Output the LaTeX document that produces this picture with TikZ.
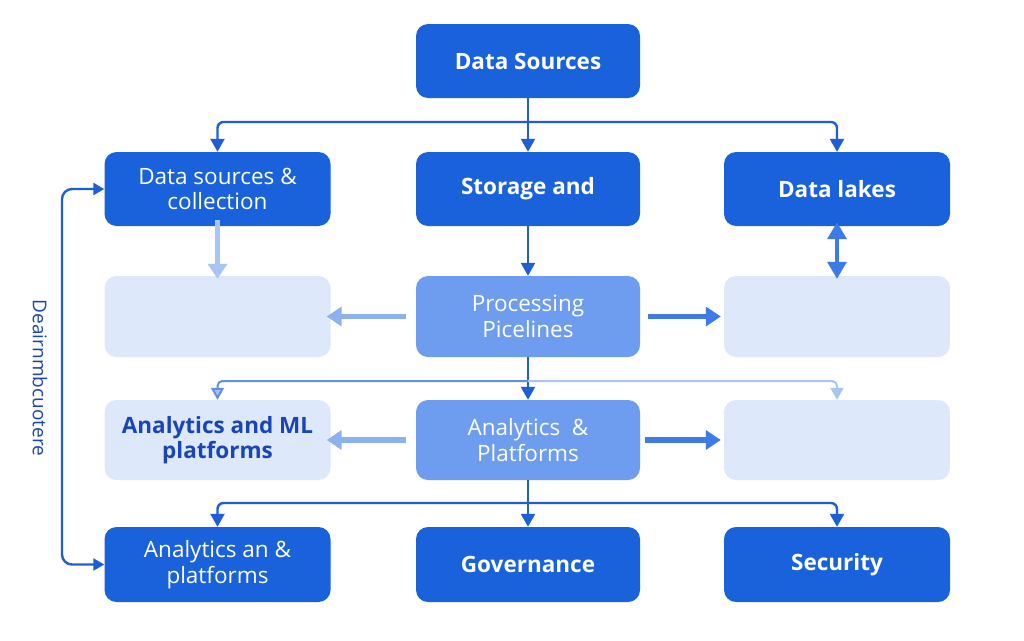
\documentclass[tikz,border=0pt]{standalone}
\usepackage{fontspec}
\setmainfont{Open Sans}
\usetikzlibrary{arrows.meta}
\definecolor{dk}{HTML}{1A62DC}
\definecolor{md}{HTML}{6E9DF0}
\definecolor{lt}{HTML}{DDE9FB}
\definecolor{ln}{HTML}{1F5FD6}
\definecolor{fd}{HTML}{A8C5F3}
\definecolor{fm}{HTML}{8DB1EF}
\definecolor{ar}{HTML}{3F7BE6}
\definecolor{tx}{HTML}{1A45B5}
\begin{document}
\begin{tikzpicture}[x=1pt,y=-1pt,
  box/.style={rounded corners=12pt, align=center, inner sep=0pt, minimum width=226pt, font=\fontsize{22.5}{25.5}\selectfont},
  bold/.style={font=\fontsize{22.5}{25.5}\selectfont\bfseries},
  dkbox/.style={box, fill=dk, text=white},
  mdbox/.style={box, fill=md, text=white},
  ltbox/.style={box, fill=lt, text=tx},
  conn/.style={draw=ln, line width=2.4pt, -{Triangle[length=13pt,width=14pt]}},
  fat/.style={line width=5.5pt, -{Triangle[length=15pt,width=19pt]}},
]
\useasboundingbox[fill=white] (0,0) rectangle (1024,640);

% nodes
\node[dkbox, bold, minimum width=224pt, minimum height=74pt] (src) at (528,61) {Data Sources};

\node[dkbox, minimum height=74pt] (r1l) at (217.5,189) {Data sources \&\\collection};
\node[dkbox, bold, minimum width=224pt, minimum height=74pt] (r1c) at (528,189) {Storage and};
\node[dkbox, bold, minimum height=74pt] (r1r) at (837,189) {Data lakes};

\node[ltbox, minimum height=81pt] (r2l) at (217.5,316.5) {};
\node[mdbox, minimum width=224pt, minimum height=81pt] (r2c) at (528,316.5) {Processing\\Picelines};
\node[ltbox, minimum height=81pt] (r2r) at (837,316.5) {};

\node[ltbox, bold, minimum height=80pt] (r3l) at (217.5,440) {Analytics and ML\\platforms};
\node[mdbox, minimum width=224pt, minimum height=80pt] (r3c) at (528,440) {Analytics~~\&\\Platforms};
\node[ltbox, minimum height=80pt] (r3r) at (837,440) {};

\node[dkbox, minimum height=75pt] (r4l) at (217.5,564.5) {Analytics an \&\\platforms};
\node[dkbox, bold, minimum width=224pt, minimum height=75pt] (r4c) at (528,564.5) {Governance};
\node[dkbox, bold, minimum height=75pt] (r4r) at (837,564.5) {Security};

\node[rotate=-90, text=tx, font=\fontsize{19}{22}\selectfont] (side) at (40,378) {Deairnmbcuotere};

% branch points
\coordinate (b1) at (528,122);
\coordinate (b2) at (528,381);
\coordinate (b3) at (528,503);
\coordinate (lc1) at (62,189);
\coordinate (lc2) at (62,564.5);

% top fan-out
\draw[conn] (src.south) -- (r1c.north);
\draw[conn, rounded corners=6pt] (b1) -| (r1l.north);
\draw[conn, rounded corners=6pt] (b1) -| (r1r.north);

% row1 -> row2
\draw[fat, draw=fd] ([yshift=6pt]r1l.south) -- ([yshift=-3pt]r2l.north);
\draw[conn] (r1c.south) -- (r2c.north);
\draw[draw=ar, line width=3.5pt, {Triangle[length=17pt,width=19pt]}-{Triangle[length=17pt,width=19pt]}] ([yshift=4pt]r1r.south) -- ([yshift=-3pt]r2r.north);

% row2 sideways
\draw[fat, draw=fm] ([xshift=-10pt]r2c.west) -- ([xshift=-4pt]r2l.east);
\draw[fat, draw=ar] ([xshift=8pt]r2c.east) -- ([xshift=-3pt]r2r.west);

% row2 -> row3
\draw[conn] (r2c.south) -- (r3c.north);
\draw[draw=ln!70!white, line width=2pt, rounded corners=5pt, -{Triangle[length=12pt,width=13pt, fill=fd]}] (b2) -| (r3l.north);
\draw[draw=fd, line width=2pt, rounded corners=5pt, -{Triangle[length=12pt,width=13pt]}] (b2) -| (r3r.north);

% row3 sideways
\draw[fat, draw=fm] ([xshift=-10pt]r3c.west) -- ([xshift=-4pt]r3l.east);
\draw[fat, draw=ar] ([xshift=5pt]r3c.east) -- ([xshift=-3pt]r3r.west);

% bottom fan-out
\draw[conn] (r3c.south) -- (r4c.north);
\draw[conn, rounded corners=6pt] (b3) -| (r4l.north);
\draw[conn, rounded corners=6pt] (b3) -| (r4r.north);

% feedback loop on the left
\draw[draw=ln, line width=2.4pt, rounded corners=10pt, {Triangle[length=11pt,width=12pt]}-{Triangle[length=11pt,width=12pt]}] (r4l.west) -- (lc2) -- (lc1) -- (r1l.west);
\end{tikzpicture}
\end{document}
